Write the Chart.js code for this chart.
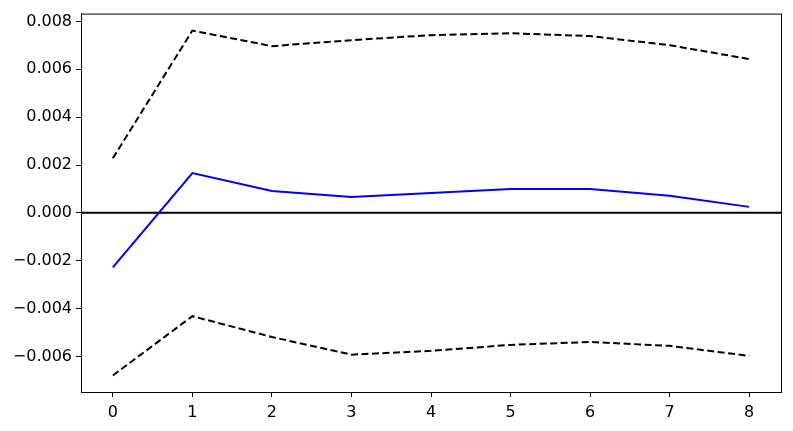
<!DOCTYPE html>
<html>
<head>
<meta charset="utf-8">
<script src="https://cdn.jsdelivr.net/npm/chart.js@4"></script>
<style>
    html, body { margin: 0; padding: 0; background: #fff; }
    #wrap { width: 793px; height: 431px; position: relative; }
</style>
</head>
<body>
<div id="wrap"><canvas id="chart"></canvas></div>
<script>
const steps      = [0, 1, 2, 3, 4, 5, 6, 7, 8];
const response   = [-0.00228, 0.00166, 0.00091, 0.00066, 0.00083, 0.00100, 0.00100, 0.00071, 0.00025];
const upperBand  = [0.00228, 0.00762, 0.00697, 0.00722, 0.00743, 0.00751, 0.00739, 0.00701, 0.00643];
const lowerBand  = [-0.00680, -0.00432, -0.00519, -0.00593, -0.00577, -0.00552, -0.00540, -0.00556, -0.00598];
const xTicks     = [0, 1, 2, 3, 4, 5, 6, 7, 8];
const yTicks     = [-0.006, -0.004, -0.002, 0, 0.002, 0.004, 0.006, 0.008];

const pts = vals => steps.map((s, i) => ({ x: s, y: vals[i] }));

const FONT = { family: 'DejaVu Sans', size: 16 };

const boxPlugin = {
    id: 'box',
    beforeDatasetsDraw(chart) {
        const { ctx, chartArea: a, scales: { y } } = chart;
        const y0 = y.getPixelForValue(0);
        ctx.save();
        ctx.strokeStyle = '#000';
        ctx.lineWidth = 2;
        ctx.beginPath();
        ctx.moveTo(a.left, y0);
        ctx.lineTo(a.right, y0);
        ctx.stroke();
        ctx.restore();
    },
    afterDraw(chart) {
        const { ctx, chartArea: a } = chart;
        ctx.save();
        ctx.strokeStyle = '#000';
        ctx.lineWidth = 1;
        ctx.strokeRect(a.left + 0.5, a.top + 0.5, a.right - a.left, a.bottom - a.top);
        ctx.restore();
    }
};

const dashed = {
    borderColor: '#000',
    borderWidth: 2,
    borderDash: [7, 3.5],
    pointRadius: 0,
    tension: 0,
    fill: false
};

new Chart(document.getElementById('chart'), {
    type: 'line',
    data: {
        datasets: [
            { label: 'upper', data: pts(upperBand), ...dashed },
            { label: 'lower', data: pts(lowerBand), ...dashed },
            {
                label: 'irf',
                data: pts(response),
                borderColor: '#0000ff',
                borderWidth: 2,
                pointRadius: 0,
                tension: 0,
                fill: false
            }
        ]
    },
    options: {
        responsive: true,
        maintainAspectRatio: false,
        animation: false,
        layout: { padding: { top: 12, right: 12, left: 0, bottom: 0 } },
        plugins: { legend: { display: false }, tooltip: { enabled: false } },
        scales: {
            x: {
                type: 'linear',
                min: -0.4,
                max: 8.4,
                afterBuildTicks: s => { s.ticks = xTicks.map(v => ({ value: v })); },
                afterFit: s => { s.height = 39; },
                ticks: { color: '#000', font: FONT, padding: 6, maxRotation: 0 },
                grid: { drawOnChartArea: false, drawTicks: true, tickLength: 5, color: '#000' },
                border: { display: true, color: '#000', width: 1 }
            },
            y: {
                type: 'linear',
                min: -0.00749,
                max: 0.00833,
                afterBuildTicks: s => { s.ticks = yTicks.map(v => ({ value: v })); },
                afterFit: s => { s.width = 81; },
                ticks: {
                    color: '#000',
                    font: FONT,
                    padding: 4,
                    callback: v => (v < 0 ? '\u2212' : '') + Math.abs(v).toFixed(3)
                },
                grid: { drawOnChartArea: false, drawTicks: true, tickLength: 5, color: '#000' },
                border: { display: true, color: '#000', width: 1 }
            }
        }
    },
    plugins: [boxPlugin]
});
</script>
</body>
</html>
